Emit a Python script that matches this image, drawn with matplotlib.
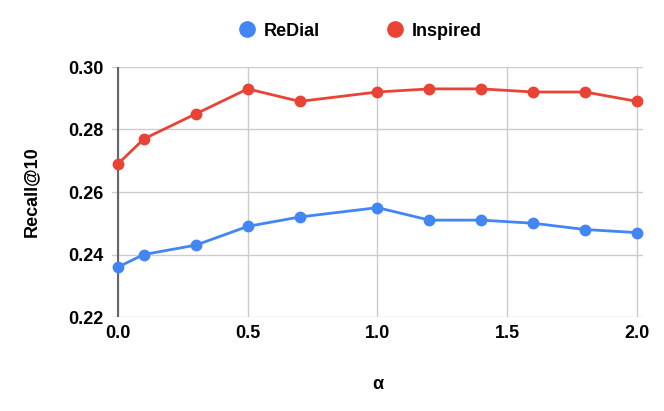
import matplotlib.pyplot as plt
from matplotlib.lines import Line2D

plt.rcParams['font.family'] = ['Liberation Sans', 'DejaVu Sans']

# alpha values and Recall@10 per dataset
alpha = [0.0, 0.1, 0.3, 0.5, 0.7, 1.0, 1.2, 1.4, 1.6, 1.8, 2.0]
redial = [0.236, 0.240, 0.243, 0.249, 0.252, 0.255, 0.251, 0.251, 0.250, 0.248, 0.247]
inspired = [0.269, 0.277, 0.285, 0.293, 0.289, 0.292, 0.293, 0.293, 0.292, 0.292, 0.289]

blue = '#4285F4'
red = '#EA4335'

fig = plt.figure(figsize=(6.64, 4.11), dpi=100)
ax = fig.add_axes([112/664, 1 - 317/411, (643-112)/664, (317-67)/411])

ax.plot(alpha, redial, color=blue, lw=2, marker='o', ms=7.5, label='ReDial', zorder=3, clip_on=False)
ax.plot(alpha, inspired, color=red, lw=2, marker='o', ms=7.5, label='Inspired', zorder=3, clip_on=False)

ax.set_xlim(-0.023, 2.023)
ax.set_ylim(0.22, 0.30)
ax.set_xticks([0.0, 0.5, 1.0, 1.5, 2.0])
ax.set_yticks([0.22, 0.24, 0.26, 0.28, 0.30])
ax.set_xticklabels(['0.0', '0.5', '1.0', '1.5', '2.0'])
ax.set_yticklabels(['0.22', '0.24', '0.26', '0.28', '0.30'])
ax.tick_params(length=0, labelsize=13, pad=6)
for lab in ax.get_xticklabels() + ax.get_yticklabels():
    lab.set_fontweight('bold')

ax.grid(True, color='#cccccc', lw=1)
ax.set_axisbelow(True)
for s in ax.spines.values():
    s.set_visible(False)
ax.axvline(0, color='#666666', lw=1.5, zorder=2)

ax.set_xlabel('α', fontsize=13, fontweight='bold', labelpad=24)
ax.set_ylabel('Recall@10', fontsize=13, fontweight='bold', labelpad=20)

handles = [Line2D([], [], color=blue, marker='o', ls='', ms=11),
           Line2D([], [], color=red, marker='o', ls='', ms=11)]
fig.legend(handles, ['ReDial', 'Inspired'], loc='center', bbox_to_anchor=(360/664, 1 - 31/411),
           ncol=2, frameon=False, prop={'weight': 'bold', 'size': 13},
           handletextpad=0.4, columnspacing=3.7, handlelength=1.0)

fig.savefig('out.png', dpi=100)
